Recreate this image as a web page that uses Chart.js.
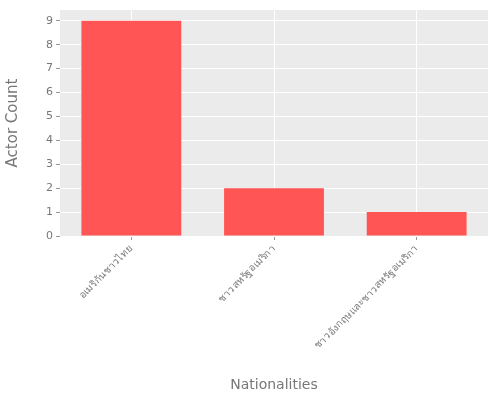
<!DOCTYPE html>
<html>
<head>
<meta charset="utf-8">
<script src="https://cdn.jsdelivr.net/npm/chart.js@4"></script>
<style>
  body { margin: 0; background: #fff; }
  #wrap { width: 500px; height: 400px; }
</style>
</head>
<body>
<div id="wrap"><canvas id="grafico"></canvas></div>
<script>
const nationalities = ["อเมริกันชาวไทย", "ชาวสหรัฐอเมริกา", "ชาวอังกฤษและชาวสหรัฐอเมริกา"];
const actorCounts = [9, 2, 1];
const yTicks = [0, 1, 2, 3, 4, 5, 6, 7, 8, 9];

// fundo cinza da área do gráfico
const fundo = {
    id: "fundo",
    beforeDraw(chart) {
        const a = chart.chartArea;
        const ctx = chart.ctx;
        ctx.save();
        ctx.fillStyle = "#ebebeb";
        ctx.fillRect(a.left, a.top, a.right - a.left, a.bottom - a.top);
        ctx.restore();
    }
};

Chart.defaults.font.family = "DejaVu Sans";

new Chart(document.getElementById("grafico"), {
    type: "bar",
    data: {
        labels: nationalities,
        datasets: [{
            data: actorCounts,
            backgroundColor: "#ff5555",
            categoryPercentage: 0.7,
            barPercentage: 1.0
        }]
    },
    options: {
        responsive: true,
        maintainAspectRatio: false,
        animation: false,
        layout: { padding: { top: 10, right: 12 } },
        plugins: { legend: { display: false }, tooltip: { enabled: false } },
        scales: {
            x: {
                grid: { color: "#ffffff", offset: false, tickColor: "#999", tickLength: 4 },
                border: { display: false },
                ticks: { color: "#777", font: { size: 10 }, maxRotation: 45, minRotation: 45 },
                title: { display: true, text: "Nationalities", color: "#777", font: { size: 14 }, padding: { top: 6, bottom: 6 } },
                afterFit(axis) { axis.height = 164; }
            },
            y: {
                min: 0,
                max: 9.45,
                grid: { color: "#ffffff", tickColor: "#999", tickLength: 4 },
                border: { display: false },
                afterBuildTicks(axis) {
                    axis.ticks = yTicks.map(v => ({ value: v }));
                },
                ticks: { color: "#777", font: { size: 11 } },
                title: { display: true, text: "Actor Count", color: "#777", font: { size: 15 } },
                afterFit(axis) { axis.width = 60; }
            }
        }
    },
    plugins: [fundo]
});
</script>
</body>
</html>
